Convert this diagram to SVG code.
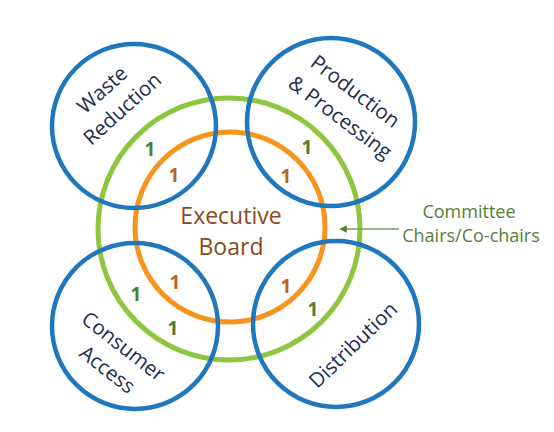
<svg xmlns="http://www.w3.org/2000/svg" width="554" height="432" viewBox="0 0 554 432">
<defs>
<style>
.blue{fill:none;stroke:#1F77BD;stroke-width:4.5}
.green{fill:none;stroke:#8DC63F;stroke-width:5}
.orange{fill:none;stroke:#F7941D;stroke-width:5}
.lbl{font-family:"Open Sans","Liberation Sans",sans-serif;font-size:20.5px;fill:#1F2D50;text-anchor:middle}
.gn{font-family:"Open Sans","Liberation Sans",sans-serif;font-size:19px;font-weight:bold;fill:#4E7D32;text-anchor:middle}
.on{font-family:"Open Sans","Liberation Sans",sans-serif;font-size:19px;font-weight:bold;fill:#B5651D;text-anchor:middle}
.exec{font-family:"Open Sans","Liberation Sans",sans-serif;font-size:23px;fill:#8A4A1C;text-anchor:middle}
.cc{font-family:"Open Sans","Liberation Sans",sans-serif;font-size:18px;fill:#548235;text-anchor:middle}
</style>
<marker id="ah" viewBox="0 0 10 10" refX="1" refY="5" markerWidth="5" markerHeight="5" orient="auto-start-reverse">
<path d="M0,0 L10,5 L0,10 z" fill="#548235"/>
</marker>
</defs>
<rect width="554" height="432" fill="#ffffff"/>
<g id="green-ring"><circle class="green" cx="229" cy="229" r="131"/></g>
<g id="orange-ring"><circle class="orange" cx="230" cy="227" r="95"/></g>
<g id="waste-reduction">
<circle class="blue" cx="134" cy="126" r="82"/>
<text class="lbl" transform="translate(107,95) rotate(-42)">Waste</text>
<text class="lbl" transform="translate(127,114) rotate(-42)">Reduction</text>
</g>
<g id="production-processing">
<circle class="blue" cx="331" cy="122" r="84"/>
<text class="lbl" transform="translate(351,97) rotate(37)">Production</text>
<text class="lbl" transform="translate(336,123) rotate(37)">&amp; Processing</text>
</g>
<g id="consumer-access">
<circle class="blue" cx="135" cy="326" r="83"/>
<text class="lbl" transform="translate(119,352) rotate(38)">Consumer</text>
<text class="lbl" transform="translate(103,375) rotate(38)">Access</text>
</g>
<g id="distribution">
<circle class="blue" cx="336" cy="324" r="83"/>
<text class="lbl" transform="translate(358,350) rotate(-44)">Distribution</text>
</g>
<g id="executive-board">
<text class="exec" x="231" y="224">Executive</text>
<text class="exec" x="231" y="255">Board</text>
</g>
<g id="numbers">
<text class="gn" x="150" y="156">1</text>
<text class="on" x="174" y="182">1</text>
<text class="gn" x="307" y="154">1</text>
<text class="on" x="286" y="183">1</text>
<text class="gn" x="136" y="301">1</text>
<text class="on" x="175" y="289">1</text>
<text class="gn" x="173" y="335">1</text>
<text class="on" x="286" y="293">1</text>
<text class="gn" x="313" y="316">1</text>
</g>
<g id="committee-chairs">
<text class="cc" x="469" y="218">Committee</text>
<text class="cc" x="471" y="242">Chairs/Co-chairs</text>
</g>
<g id="connectors">
<line x1="399" y1="229" x2="346" y2="229" stroke="#7A9A66" stroke-width="1.5" marker-end="url(#ah)"/>
</g>
</svg>
